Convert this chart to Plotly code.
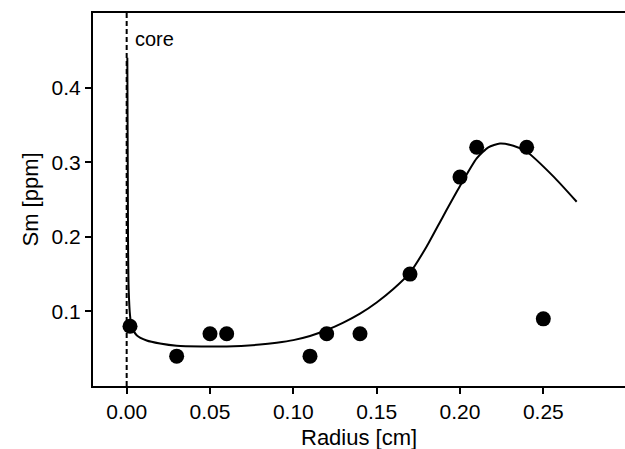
import plotly.graph_objects as go

# measured data points
radius_pts = [0.002, 0.03, 0.05, 0.06, 0.11, 0.12, 0.14, 0.17, 0.20, 0.21, 0.24, 0.25]
sm_pts = [0.080, 0.040, 0.070, 0.070, 0.040, 0.070, 0.070, 0.150, 0.280, 0.320, 0.320, 0.090]

# fitted model curve
radius_fit = [0.0004, 0.0008, 0.0012, 0.002, 0.003, 0.006, 0.012, 0.02, 0.03, 0.045,
              0.06, 0.08, 0.09, 0.10, 0.11, 0.12, 0.13, 0.14, 0.15, 0.16,
              0.17, 0.18, 0.19, 0.20, 0.21, 0.217, 0.224, 0.232, 0.24, 0.256, 0.27]
sm_fit = [0.440, 0.20, 0.13, 0.095, 0.080, 0.068, 0.061, 0.057, 0.054, 0.053,
          0.053, 0.0555, 0.058, 0.0615, 0.067, 0.075, 0.085, 0.097, 0.112, 0.130,
          0.152, 0.187, 0.228, 0.268, 0.305, 0.320, 0.325, 0.322, 0.314, 0.281, 0.247]

x_ticks = [0.00, 0.05, 0.10, 0.15, 0.20, 0.25]
y_ticks = [0.1, 0.2, 0.3, 0.4]

FONT = "Liberation Sans, Arial, Helvetica, sans-serif"

fig = go.Figure()
fig.add_trace(go.Scatter(x=radius_fit, y=sm_fit, mode="lines",
                         line=dict(color="black", width=2, shape="spline", smoothing=0.6),
                         showlegend=False, hoverinfo="skip"))
fig.add_trace(go.Scatter(x=radius_pts, y=sm_pts, mode="markers",
                         marker=dict(color="black", size=15, line=dict(width=0)),
                         showlegend=False))

fig.add_shape(type="line", xref="x", yref="paper", x0=0, x1=0, y0=0, y1=1,
              line=dict(color="black", width=2, dash="5px,3px"), layer="below")
fig.add_annotation(x=0, y=0.465, xref="x", yref="y", text="core", showarrow=False,
                   xanchor="left", yanchor="middle", xshift=6,
                   font=dict(size=20, color="black", family=FONT))

# axis titles placed as annotations to match reference positions
fig.add_annotation(x=0.5, y=-(437 - 386) / 373, xref="paper", yref="paper",
                   text="Radius [cm]", showarrow=False, xanchor="center", yanchor="middle",
                   font=dict(size=22, color="black", family=FONT))
fig.add_annotation(x=-(93 - 30) / 532, y=0.5, xref="paper", yref="paper",
                   text="Sm [ppm]", showarrow=False, xanchor="center", yanchor="middle",
                   textangle=-90, font=dict(size=22, color="black", family=FONT))

fig.update_layout(
    width=625, height=449,
    margin=dict(l=93, r=0, t=13, b=63),
    plot_bgcolor="white", paper_bgcolor="white",
    font=dict(family=FONT, size=21, color="black"),
    xaxis=dict(range=[-0.0202, 0.299], tickvals=x_ticks, ticktext=[f"{v:.2f}" for v in x_ticks],
               showgrid=False, zeroline=False, showline=True, linecolor="black", linewidth=2,
               mirror=True, ticks="outside", ticklen=6, tickwidth=1.5, tickcolor="black",
               tickfont=dict(size=21)),
    yaxis=dict(range=[0, 0.5], tickvals=y_ticks, ticktext=[f"{v:.1f}" for v in y_ticks],
               showgrid=False, zeroline=False, showline=True, linecolor="black", linewidth=2,
               ticks="outside", ticklen=6, tickwidth=1.5, tickcolor="black",
               tickfont=dict(size=21)),
)

fig.write_html("out.html", config={"displayModeBar": False},
               post_script="document.body.style.margin='0';document.body.style.overflow='hidden';")
